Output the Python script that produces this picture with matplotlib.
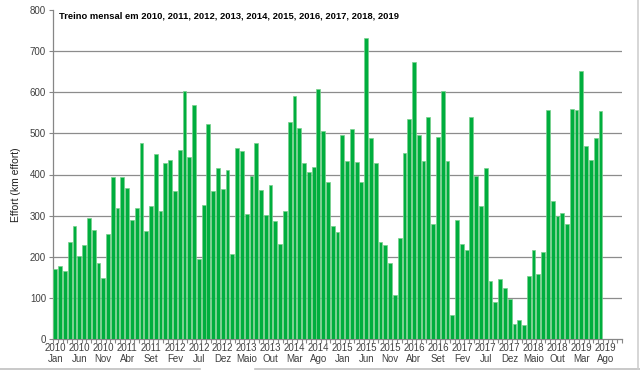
import matplotlib
matplotlib.use("Agg")
import matplotlib.pyplot as plt
from matplotlib import font_manager
import numpy as np

plt.rcParams['font.family'] = ['Liberation Sans', 'DejaVu Sans']

months_pt = ["Jan", "Fev", "Mar", "Abr", "Maio", "Jun", "Jul", "Ago", "Set", "Out", "Nov", "Dez"]
years = list(range(2010, 2020))

effort_2010 = [170, 178, 166, 235, 275, 202, 228, 295, 265, 185, 149, 255]
effort_2011 = [393, 319, 393, 366, 290, 319, 476, 262, 323, 451, 311, 429]
effort_2012 = [435, 359, 459, 603, 442, 570, 194, 327, 523, 361, 416, 365]
effort_2013 = [410, 207, 465, 457, 303, 396, 476, 363, 301, 374, 286, 230]
effort_2014 = [311, 528, 592, 513, 427, 406, 419, 609, 505, 381, 275, 259]
effort_2015 = [495, 433, 510, 430, 381, 733, 489, 429, 235, 229, 184, 106]
effort_2016 = [246, 452, 534, 673, 496, 433, 541, 280, 492, 604, 432, 58]
effort_2017 = [289, 231, 216, 539, 396, 323, 416, 141, 90, 145, 125, 97]
effort_2018 = [36, 46, 35, 154, 216, 157, 212, 557, 335, 299, 307, 280]
effort_2019 = [560, 557, 651, 469, 435, 489, 555]

values = (effort_2010 + effort_2011 + effort_2012 + effort_2013 + effort_2014 +
          effort_2015 + effort_2016 + effort_2017 + effort_2018 + effort_2019)

n_categories = 119  # Jan 2010 .. Nov 2019 on the category axis
categories = [f"{years[i // 12]}\n{months_pt[i % 12]}" for i in range(n_categories)]

title = "Treino mensal em 2010, 2011, 2012, 2013, 2014, 2015, 2016, 2017, 2018, 2019"

fig = plt.figure(figsize=(6.4, 3.71), dpi=100)
ax = fig.add_axes([53 / 640, 32 / 371, (622 - 53) / 640, (339 - 10) / 371])

x = np.arange(len(values))
ax.bar(x, values, width=0.8, color='#00ae3e', edgecolor='#78d08c', linewidth=0.5, zorder=3)

ax.set_xlim(-0.5, n_categories - 0.5)
ax.set_ylim(0, 800)

for g in range(100, 800, 100):
    ax.axhline(g, color='#8c8c8c', linewidth=0.9, zorder=1)

ax.set_yticks(range(0, 801, 100))
ax.set_yticklabels([str(v) for v in range(0, 801, 100)], fontsize=7, color='#404040')
ax.tick_params(axis='y', direction='out', length=3, width=0.8, color='#868686', pad=2)

label_idx = list(range(0, n_categories, 5))
ax.set_xticks(label_idx)
ax.set_xticklabels([categories[i] for i in label_idx], fontsize=7, color='#404040', linespacing=1.15)
ax.tick_params(axis='x', which='major', length=0, pad=3)
ax.set_xticks(np.arange(-0.5, n_categories, 1), minor=True)
ax.tick_params(axis='x', which='minor', direction='out', length=3, width=0.8, color='#868686')

for s in ['top', 'right']:
    ax.spines[s].set_visible(False)
for s in ['left', 'bottom']:
    ax.spines[s].set_color('#868686')
    ax.spines[s].set_linewidth(0.9)

# Title: fit to the reference width (~337 px)
names = {f.name for f in font_manager.fontManager.ttflist}
tfam = 'Liberation Sans Narrow' if 'Liberation Sans Narrow' in names else 'Liberation Sans'
t = fig.text(59 / 640, 1 - 16 / 371, title, fontsize=7, fontweight='bold', family=tfam,
             va='center', ha='left', color='black')
renderer = fig.canvas.get_renderer()
w = t.get_window_extent(renderer).width
t.set_fontsize(7 * 337 / w)

fig.text(16 / 640, 1 - 185 / 371, "Effort (km effort)", rotation=90, fontsize=7.5,
         va='center', ha='center', color='#202020')

# chart frame remnants
fig.add_artist(plt.Line2D([0, 200 / 640], [1 - 369 / 371] * 2, color='#c0c0c0', lw=1.2, transform=fig.transFigure))
fig.add_artist(plt.Line2D([255 / 640, 1], [1 - 369 / 371] * 2, color='#c0c0c0', lw=1.2, transform=fig.transFigure))
fig.add_artist(plt.Line2D([638 / 640] * 2, [1 - 369 / 371, 1], color='#d0d0d0', lw=1.2, transform=fig.transFigure))

fig.savefig("out.png", dpi=100)
